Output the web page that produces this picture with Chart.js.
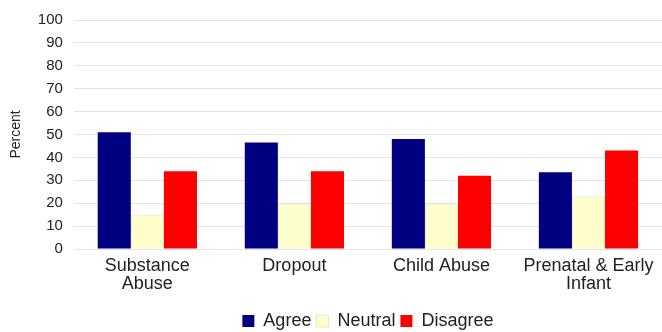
<!DOCTYPE html>
<html>
<head>
<meta charset="utf-8">
<script src="https://cdn.jsdelivr.net/npm/chart.js@4"></script>
<style>
  body { margin: 0; background: #fff; }
  #wrap { width: 662px; height: 332px; }
</style>
</head>
<body>
<div id="wrap"><canvas id="myChart"></canvas></div>
<script>
var categories = [["Substance", "Abuse"], "Dropout", "Child Abuse", ["Prenatal & Early", "Infant"]];
var agree = [51, 46.5, 48, 33.5];
var neutral = [15, 19.5, 19.5, 23];
var disagree = [34, 34, 32, 43];
var yTicks = [0, 10, 20, 30, 40, 50, 60, 70, 80, 90, 100];

Chart.defaults.font.family = "'Liberation Sans', Arial, sans-serif";
Chart.defaults.color = "#222";

var data = {
    labels: categories,
    datasets: [
        { label: "Agree", data: agree, backgroundColor: "#000080" },
        { label: "Neutral", data: neutral, backgroundColor: "#ffffcc", borderColor: "#e8e8c0", borderWidth: 1 },
        { label: "Disagree", data: disagree, backgroundColor: "#ff0000" }
    ]
};

var ctx = document.getElementById("myChart");

var myBarChart = new Chart(ctx, {
    type: 'bar',
    data: data,
    options: {
        responsive: true,
        maintainAspectRatio: false,
        animation: false,
        layout: { padding: { top: 12, right: 0, left: 4, bottom: -8 } },
        datasets: { bar: { categoryPercentage: 0.675, barPercentage: 1.0 } },
        plugins: {
            legend: {
                position: 'bottom',
                fullSize: false,
                labels: { boxWidth: 12, boxHeight: 12, padding: 5, font: { size: 18 } }
            },
            tooltip: { enabled: false }
        },
        scales: {
            x: {
                grid: { display: false, drawTicks: false },
                border: { display: false },
                ticks: { font: { size: 18, lineHeight: 1.0 }, maxRotation: 0, padding: 8 },
                afterFit: function(scale) { scale.height += 6; }
            },
            y: {
                min: 0,
                max: 100,
                afterBuildTicks: function(axis) {
                    axis.ticks = yTicks.map(function(v) { return { value: v }; });
                },
                grid: { color: "#e4e4e4", drawTicks: false },
                border: { display: false },
                ticks: { font: { size: 15 }, padding: 11 },
                title: { display: true, text: "Percent", font: { size: 14 }, padding: { top: 4, bottom: 2 } }
            }
        }
    }
});
</script>
</body>
</html>
